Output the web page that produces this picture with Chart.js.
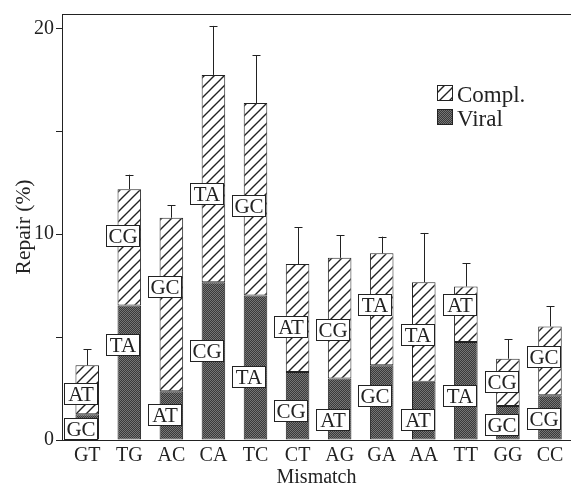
<!DOCTYPE html>
<html>
<head>
<meta charset="utf-8">
<script src="https://cdn.jsdelivr.net/npm/chart.js@4"></script>
<style>
html,body{margin:0;padding:0;background:#fff;}
#wrap{width:571px;height:490px;position:relative;}
</style>
</head>
<body>
<div id="wrap"><canvas id="c" width="571" height="490"></canvas></div>
<script>
const categories = ['GT','TG','AC','CA','TC','CT','AG','GA','AA','TT','GG','CC'];
const viral = [1.25, 6.54, 2.37, 7.66, 7.02, 3.31, 2.99, 3.63, 2.83, 4.76, 1.65, 2.18];
const compl = [2.38, 5.65, 8.43, 10.08, 9.35, 5.24, 5.86, 5.44, 4.84, 2.70, 2.30, 3.34];
const complErr = [0.78, 0.70, 0.60, 2.38, 2.32, 1.78, 1.11, 0.81, 2.39, 1.13, 0.95, 0.97];
const lowPair = ['GC','TA','AT','CG','TA','CG','AT','GC','AT','TA','GC','CG'];
const lowPairY = [0.53, 4.62, 1.21, 4.31, 3.08, 1.40, 0.97, 2.13, 0.95, 2.13, 0.73, 1.02];
const highPair = ['AT','CG','GC','TA','GC','AT','CG','TA','TA','AT','CG','GC'];
const highPairY = [2.23, 9.93, 7.42, 11.95, 11.38, 5.50, 5.33, 6.54, 5.10, 6.55, 2.82, 4.02];
const yTicks = [0, 10, 20];

const FONT = 'Liberation Serif';
const INK = '#222';

function hatchPattern() {
  const p = document.createElement('canvas');
  p.width = 10; p.height = 10;
  const g = p.getContext('2d');
  g.fillStyle = '#fff'; g.fillRect(0,0,10,10);
  g.strokeStyle = '#222'; g.lineWidth = 1.4;
  g.beginPath();
  g.moveTo(-1, 11); g.lineTo(11, -1);
  g.moveTo(-6, 6); g.lineTo(6, -6);
  g.moveTo(4, 16); g.lineTo(16, 4);
  g.stroke();
  return document.getElementById('c').getContext('2d').createPattern(p, 'repeat');
}
function stipplePattern() {
  const p = document.createElement('canvas');
  p.width = 2; p.height = 2;
  const g = p.getContext('2d');
  g.fillStyle = '#3a3a3a'; g.fillRect(0,0,2,2);
  g.fillStyle = '#767676'; g.fillRect(0,0,1,1); g.fillRect(1,1,1,1);
  return document.getElementById('c').getContext('2d').createPattern(p, 'repeat');
}
const hatch = hatchPattern();
const stipple = stipplePattern();

const overlay = {
  id: 'overlay',
  afterDatasetsDraw(chart) {
    const ctx = chart.ctx;
    const y = chart.scales.y;
    const area = chart.chartArea;
    const metaC = chart.getDatasetMeta(1);
    ctx.save();
    // error bars
    ctx.strokeStyle = INK; ctx.lineWidth = 1;
    metaC.data.forEach((bar, i) => {
      const top = y.getPixelForValue(viral[i] + compl[i] + complErr[i]);
      const x = Math.round(bar.x) + 0.5;
      ctx.beginPath();
      ctx.moveTo(x, bar.y); ctx.lineTo(x, top);
      ctx.moveTo(x - 4, Math.round(top) + 0.5); ctx.lineTo(x + 4, Math.round(top) + 0.5);
      ctx.stroke();
    });
    // base-pair labels
    ctx.font = '21px "' + FONT + '"';
    ctx.textAlign = 'center'; ctx.textBaseline = 'middle';
    const drawBox = (txt, val, bar) => {
      const w = 34, h = 22;
      const right = Math.round(bar.x + bar.width / 2) - 1;
      const cy = y.getPixelForValue(val);
      const left = right - w;
      const top = Math.round(cy - h / 2);
      ctx.fillStyle = '#fff';
      ctx.fillRect(left, top, w, h);
      ctx.strokeStyle = INK; ctx.lineWidth = 1;
      ctx.strokeRect(left + 0.5, top + 0.5, w - 1, h - 1);
      ctx.fillStyle = INK;
      ctx.fillText(txt, left + w / 2, top + h / 2 + 1);
    };
    metaC.data.forEach((bar, i) => {
      drawBox(lowPair[i], lowPairY[i], bar);
      drawBox(highPair[i], highPairY[i], bar);
    });
    // top frame line
    ctx.strokeStyle = INK; ctx.lineWidth = 1;
    ctx.beginPath();
    ctx.moveTo(area.left, Math.round(area.top) + 0.5);
    ctx.lineTo(area.right, Math.round(area.top) + 0.5);
    ctx.stroke();
    // legend
    const lx = area.left + 375, ly = area.top + 71;
    const items = [chart.data.datasets[1], chart.data.datasets[0]];
    ctx.font = '23px "' + FONT + '"';
    ctx.textAlign = 'left'; ctx.textBaseline = 'alphabetic';
    items.forEach((ds, k) => {
      const by = ly + k * 24;
      ctx.fillStyle = ds.backgroundColor;
      ctx.fillRect(lx, by, 16, 16);
      ctx.strokeStyle = INK;
      ctx.strokeRect(lx + 0.5, by + 0.5, 15, 15);
      ctx.fillStyle = INK;
      ctx.fillText(ds.label, lx + 20, by + 17);
    });
    ctx.restore();
  }
};

new Chart(document.getElementById('c'), {
  type: 'bar',
  data: {
    labels: categories,
    datasets: [
      { label: 'Viral', data: viral, backgroundColor: stipple, borderColor: INK, borderWidth: 1, borderSkipped: false },
      { label: 'Compl.', data: compl, backgroundColor: hatch, borderColor: INK, borderWidth: 1, borderSkipped: false }
    ]
  },
  options: {
    responsive: false,
    animation: false,
    devicePixelRatio: 1,
    layout: { padding: { top: 12, right: 0, bottom: 0, left: 0 } },
    datasets: { bar: { barPercentage: 0.56, categoryPercentage: 1 } },
    plugins: { legend: { display: false }, tooltip: { enabled: false } },
    scales: {
      x: {
        stacked: true,
        afterBuildTicks: (s) => { s._startValue = -0.6; s._valueRange = 12.1; },
        afterFit: (s) => { s.height = 50; },
        grid: { display: false, drawTicks: false },
        border: { display: true, color: INK, width: 1 },
        ticks: { color: INK, font: { family: FONT, size: 20 }, padding: 4, maxRotation: 0, autoSkip: false },
        title: { display: true, text: 'Mismatch', color: INK, font: { family: FONT, size: 20 }, padding: { top: 0, bottom: 0 } }
      },
      y: {
        stacked: true,
        min: 0, max: 20.7,
        afterFit: (s) => { s.width = 62; },
        grid: { drawOnChartArea: false, drawTicks: true, tickLength: 6, color: INK },
        border: { display: true, color: INK, width: 1 },
        ticks: {
          stepSize: 5, includeBounds: false, padding: 2, color: INK,
          font: { family: FONT, size: 20 },
          callback: (v) => yTicks.includes(v) ? String(v) : ''
        },
        title: { display: true, text: 'Repair (%)', color: INK, font: { family: FONT, size: 21.5 }, padding: { top: 11, bottom: 11 } }
      }
    }
  },
  plugins: [overlay]
});
</script>
</body>
</html>
